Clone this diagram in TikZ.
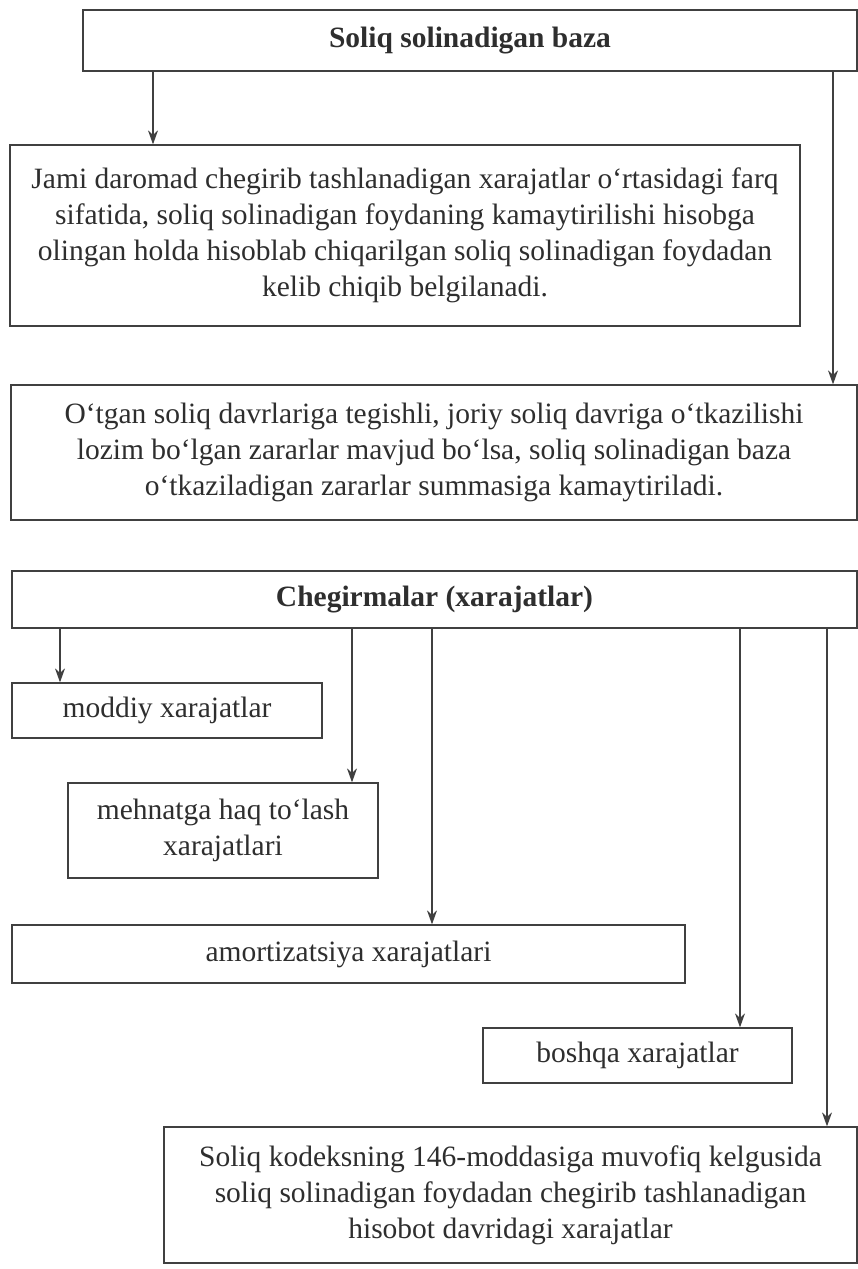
\documentclass[tikz,border=0pt]{standalone}
\usepackage{fontspec}
\setmainfont{Liberation Serif}
\usetikzlibrary{arrows.meta}
\definecolor{ink}{HTML}{2E2E2E}
\definecolor{edge}{HTML}{404040}
\tikzset{
  box/.style={draw=edge, line width=1.3pt, inner sep=0pt, align=center, text=ink,
    font=\fontsize{29.5}{36}\selectfont},
  title/.style={box, font=\fontsize{29.5}{36}\selectfont\bfseries},
  arr/.style={draw=edge, line width=1.2pt, -{Stealth[length=14pt,width=10pt]}},
}
\newcommand{\mybox}[7]{%
  \node[#1, minimum width={#4-#3}, minimum height={#6-#5}] (#2) at ({(#3+#4)/2},{(#5+#6)/2}) {#7};}
\begin{document}
\begin{tikzpicture}[x=1pt,y=-1pt]
\path[use as bounding box] (0,0) rectangle (858,1269);
\mybox{title}{b1}{83}{857}{10}{71}{Soliq solinadigan baza}
\mybox{box}{b2}{10}{800}{145}{326}{Jami daromad chegirib tashlanadigan xarajatlar o‘rtasidagi farq\\sifatida, soliq solinadigan foydaning kamaytirilishi hisobga\\olingan holda hisoblab chiqarilgan soliq solinadigan foydadan\\kelib chiqib belgilanadi.}
\mybox{box}{b3}{11}{857}{385}{520}{O‘tgan soliq davrlariga tegishli, joriy soliq davriga o‘tkazilishi\\lozim bo‘lgan zararlar mavjud bo‘lsa, soliq solinadigan baza\\o‘tkaziladigan zararlar summasiga kamaytiriladi.}
\mybox{title}{b4}{12}{857}{571}{628}{Chegirmalar (xarajatlar)}
\mybox{box}{b5}{12}{322}{683}{738}{moddiy xarajatlar}
\mybox{box}{b6}{68}{378}{783}{878}{mehnatga haq to‘lash\\xarajatlari}
\mybox{box}{b7}{12}{685}{925}{983}{amortizatsiya xarajatlari}
\mybox{box}{b8}{483}{792}{1028}{1083}{boshqa xarajatlar}
\mybox{box}{b9}{164}{857}{1127}{1263}{Soliq kodeksning 146-moddasiga muvofiq kelgusida\\soliq solinadigan foydadan chegirib tashlanadigan\\hisobot davridagi xarajatlar}
\draw[arr] (b1.south -| 153,0) -- (b2.north -| 153,0);
\draw[arr] (b1.south -| 833,0) -- (b3.north -| 833,0);
\draw[arr] (b4.south -| 60,0) -- (b5.north -| 60,0);
\draw[arr] (b4.south -| 352,0) -- (b6.north -| 352,0);
\draw[arr] (b4.south -| 432,0) -- (b7.north -| 432,0);
\draw[arr] (b4.south -| 740,0) -- (b8.north -| 740,0);
\draw[arr] (b4.south -| 827,0) -- (b9.north -| 827,0);
\end{tikzpicture}
\end{document}
